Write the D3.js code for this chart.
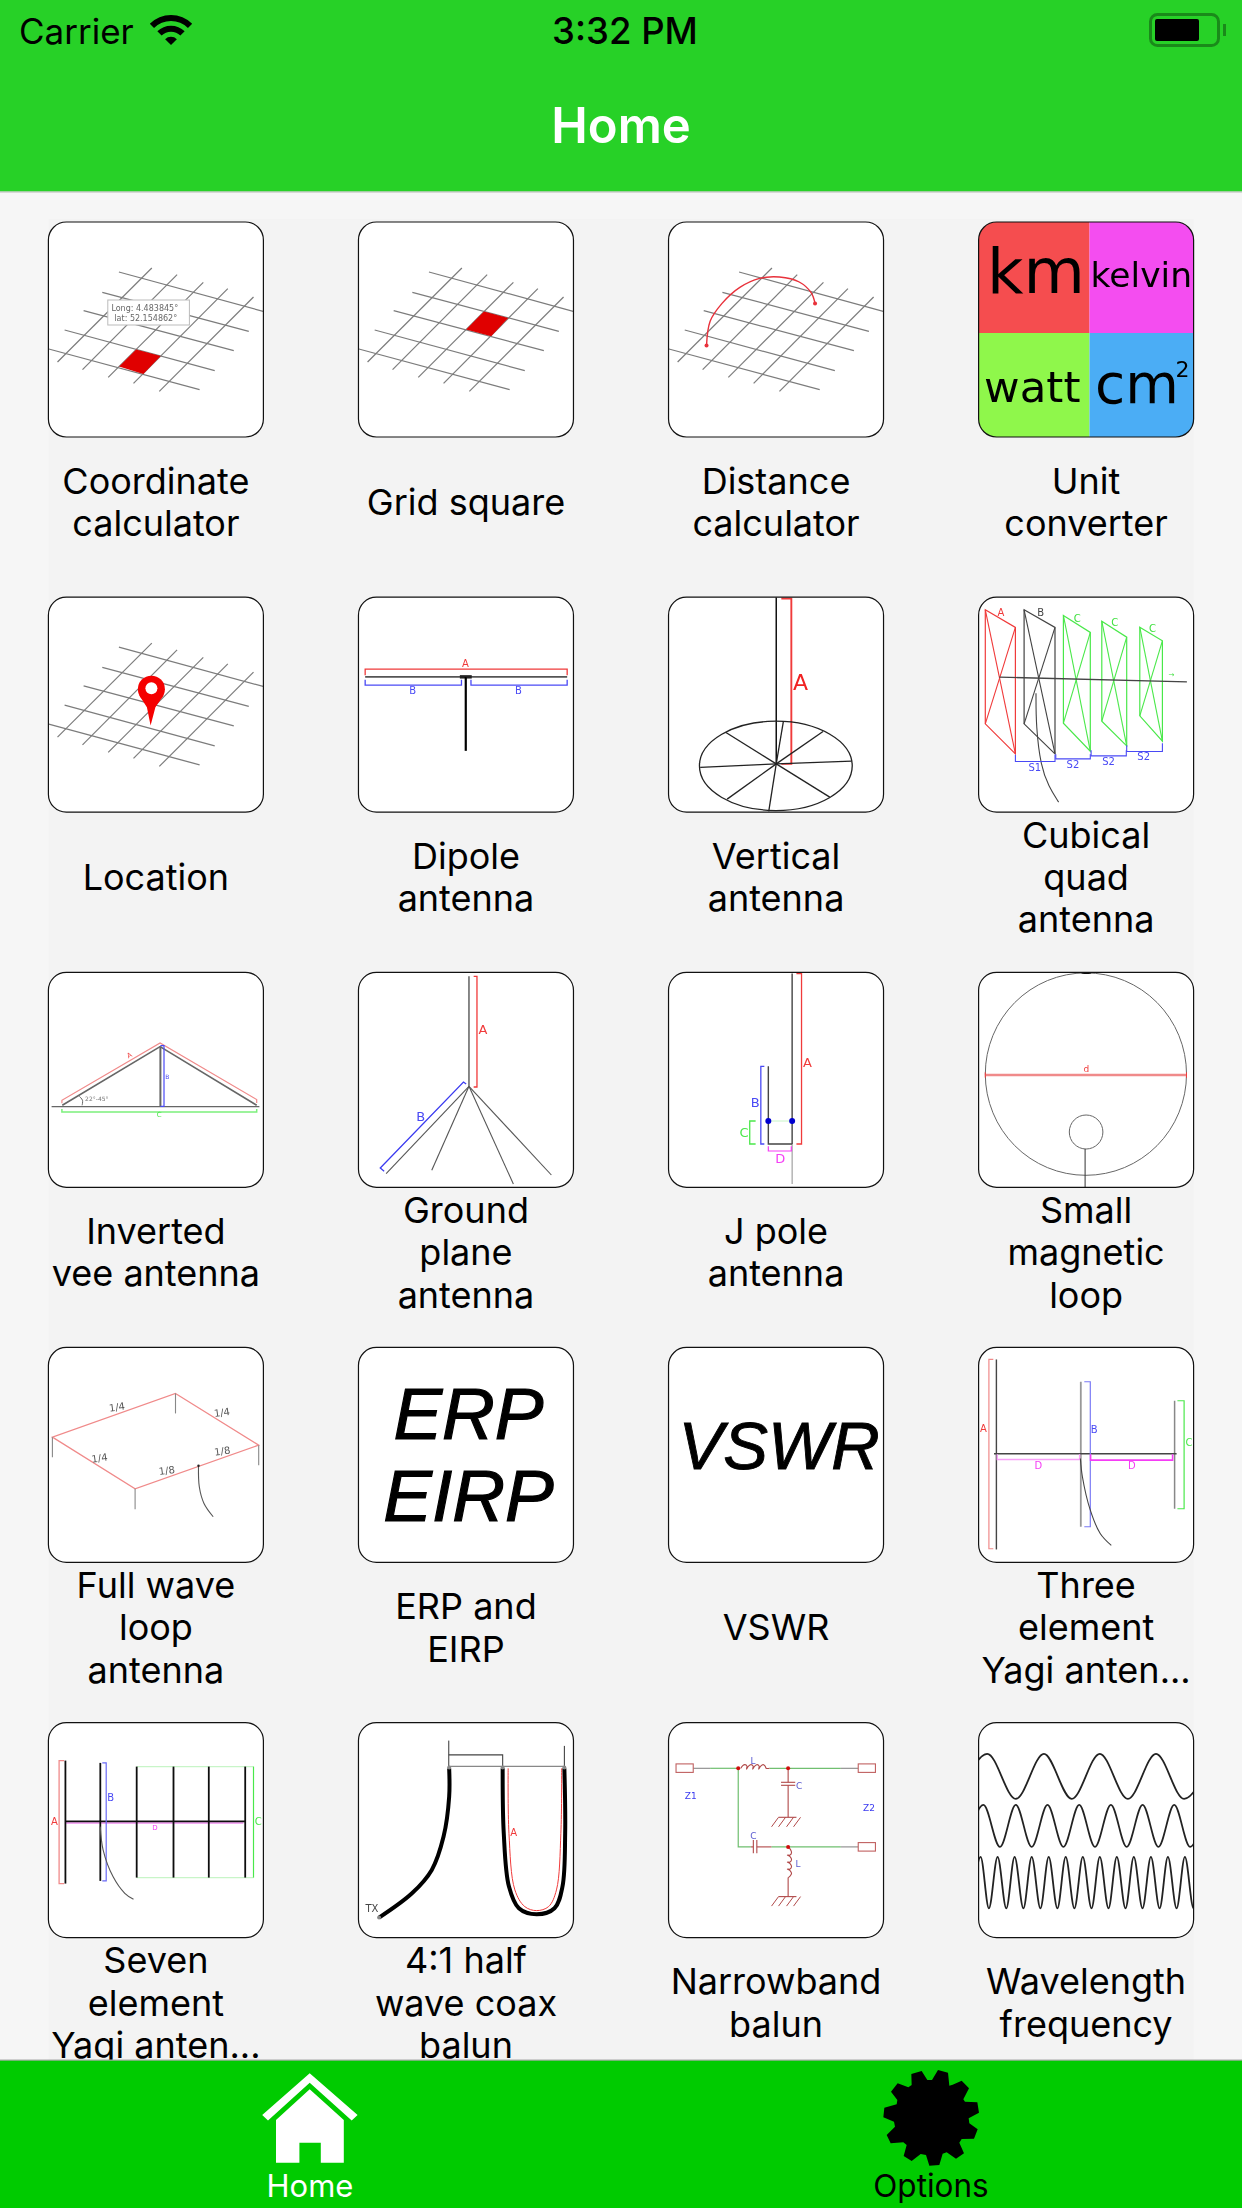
<!DOCTYPE html>
<html><head><meta charset="utf-8">
<style>html,body{margin:0;padding:0;background:#f6f6f6}svg{display:block}text{font-family:Inter,"Noto Sans",sans-serif}</style>
<script src="https://cdnjs.cloudflare.com/ajax/libs/d3/7.8.5/d3.min.js"></script>
</head><body><svg id="s" width="1242" height="2208" viewBox="0 0 1242 2208"></svg>
<script>
// ---------- labels ----------
const labels = [
 ["Coordinate","calculator"],["Grid square"],["Distance","calculator"],["Unit","converter"],
 ["Location"],["Dipole","antenna"],["Vertical","antenna"],["Cubical","quad","antenna"],
 ["Inverted","vee antenna"],["Ground","plane","antenna"],["J pole","antenna"],["Small","magnetic","loop"],
 ["Full wave","loop","antenna"],["ERP and","EIRP"],["VSWR"],["Three","element","Yagi anten..."],
 ["Seven","element","Yagi anten..."],["4:1 half","wave coax","balun"],["Narrowband","balun"],["Wavelength","frequency"]
];
// ---------- icon geometry, in card units (0-215) ----------
const gridRows = [[[70.5,50],[214.7,89.3]],[[53.9,70.3],[200.4,109.3]],[[35.2,88.7],[185.4,128.7]],[[16.2,108],[166.3,148.7]],[[0.4,127],[151.2,167.7]]];
const gridCols = [[[9.1,140],[103.4,46]],[[34.1,147.7],[128.7,52.7]],[[59.8,155.3],[154.9,60.3]],[[85.1,161.3],[179.4,66.7]],[[110.9,169.3],[205.1,75]]];
const coordSquare = [[87.7,127.5],[112.3,133.9],[94.9,152.1],[70.7,144.6]];
const gridSquare = [[125.5,89.6],[149.7,96],[132.7,114.3],[107.7,107.5]];
const distArc = [[38,123.6],[41.6,99.3],[53.5,81.4],[71.3,65.4],[91.1,56.4],[110.9,55],[130.7,60],[142.6,70.7],[146.5,81.4]];
const pinPoly = [[90.8,98],[115.2,98],[107,110],[102.2,128.3],[98.5,110]];
const dipoleA = [[6.7,78],[6.7,72],[208.7,72],[208.7,78]];
const dipoleB1 = [[6.7,82.7],[6.7,88],[103,88],[103,82.7]];
const dipoleB2 = [[112.5,82.7],[112.5,88],[208.7,88],[208.7,82.7]];
const vertSpokes = [[114.9,124],[154.5,134.3],[183,164],[161.2,200],[100.2,214.3],[58.6,202],[31.7,170.3],[57.4,135.3]];
const quadRed = [[6.7,12.7],[36.8,30.3],[36.8,156.7],[6.7,126.7]];
const quadBlack = [[45.5,12.7],[76.4,30.3],[76.4,156.7],[45.5,126.7]];
const quadG1 = [[84.8,18.3],[111.7,35.3],[111.7,154],[84.8,126]];
const quadG2 = [[123.2,24],[148.1,40],[148.1,148.7],[123.2,124]];
const quadG3 = [[161.2,30],[183.8,43.7],[183.8,144],[161.2,118.7]];
const quadFeed = [[57.4,96],[57.4,129.3],[62.2,169.3],[70.1,189.3],[80,205]];
const quadS = [[[36.8,157.7],[36.8,164.3],[76.4,164.3],[76.4,157.7]],[[77.2,157],[77.2,161.7],[111.7,161.7],[111.7,157]],[[112.5,153],[112.5,158.7],[147.7,158.7],[147.7,153]],[[148.1,148],[148.1,154.3],[183.8,154.3],[183.8,146]]];
const quadText = [["A",22.2,15,"#f03a3a"],["B",62.2,15,"#444"],["C",98.6,21,"#3fe03f"],["C",136.2,25.7,"#3fe03f"],["C",173.9,31.7,"#3fe03f"],["S1",56.2,170,"#4a4af5"],["S2",94.3,167,"#4a4af5"],["S2",129.9,164,"#4a4af5"],["S2",165.1,159.7,"#4a4af5"]];
const veeRoof = [[13.9,133],[111.7,74.3],[208.3,133]];
const veeRed = [[13.5,131],[13.5,128],[111.7,70.7],[208.3,127.3],[208.3,130.7]];
const veeBlue = [[112,73.3],[115.6,73.3],[115.6,134],[112,134]];
const veeGreen = [[13.5,136.7],[13.5,139.7],[208.3,139.7],[208.3,136.7]];
const veeAngle = [[30.9,124],[34.1,128],[33.7,133]];
const gpRadials = [[27.7,201.3],[73.3,198],[154.9,211.7],[192.9,202.7]];
const gpRed = [[115.2,4],[118.5,4],[118.5,114.7],[115.2,114.7]];
const gpBlue = [[25.7,199],[21.8,195.7],[105,109.7],[107.7,111.7]];
const jRed = [[127.9,1.3],[133,1.3],[133,171.7],[127.9,171.7]];
const jBlue = [[95.8,94],[92.3,94],[92.3,171.7],[95.8,171.7]];
const jGreen = [[87.1,148.7],[81.2,148.7],[81.2,171.7],[87.1,171.7]];
const jPink = [[99.8,174],[99.8,178.7],[122.8,178.7],[122.8,174]];
const jU = [[99.8,94],[99.8,171.7],[123.6,171.7]];
const loopFull = [[127.1,46],[210.3,97.7],[86.7,141.3],[4,89.7]];
const loopPosts = [[[127.1,46],[127.1,66]],[[210.3,97.7],[210.3,117.7]],[[86.7,141.3],[86.7,161.7]],[[4,89.7],[4,109.7]]];
const loopFeed = [[150.1,118.3],[150.9,139.3],[155.6,156],[164.8,169.3]];
const loopText = [["1/4",68.5,59.7],["1/4",173.5,65],["1/4",51.1,110.7],["1/8",118.4,123],["1/8",173.9,103.7]];
const yagiRed = [[14.7,12],[10.3,12],[10.3,201.3],[14.7,201.3]];
const yagiBlue = [[105.7,34.3],[111.7,34.3],[111.7,179.3],[105.7,179.3]];
const yagiGreen = [[198.8,53.3],[205.5,53.3],[205.5,161.3],[198.8,161.3]];
const yagiPink1 = [[18.6,106.7],[18.6,112],[101,112],[101,106.7]];
const yagiPink2 = [[112,106.7],[112,112.7],[194,112.7],[194,106.7]];
const yagiFeed = [[101.8,111],[103.8,129.3],[111.7,162.7],[121.6,186],[132.7,198]];
const sevenEls = [[17,38,161],[51.9,40.3,158.3],[88.3,44,155],[125.1,44,155],[160.4,44,155],[196.8,44,155]];
const sevenRed = [[15.8,38],[10.7,38],[10.7,161],[15.8,161]];
const sevenBlue = [[53.9,40.3],[57.8,40.3],[57.8,158.3],[53.9,158.3]];
const sevenGreen = [[205.1,44],[205.1,155]];
const sevenFeed = [[51.9,104],[54.7,127.3],[64.6,154],[76.4,170.7],[85.1,176.7]];
const balunLeft = [[90.7,45.7],[90.7,74],[85.1,114],[73.3,147.3],[53.5,170.7],[20.6,195]];
const balunU = [[144.2,45.7],[145.3,110.7],[150.5,164],[160.4,185.7],[178.2,191.7],[196,185.7],[204,164],[206.7,110.7],[205.9,45.7]];
const balunRed = [[149.7,45.7],[150.5,110.7],[156.4,167.3],[166.3,184],[178.2,188],[190.1,184],[198,167.3],[202.4,110.7],[203.2,45.7]];
const balunLink = [[90.3,32.3],[144.2,32.3],[144.2,44]];
const nbPorts = [[7.5,41.3],[189.7,41.3],[189.7,120]];
const nbGreen = [[[41.6,45.7],[69.3,45.7]],[[101,45.7],[172.3,45.7]],[[69.7,45.7],[69.7,124.3],[82.4,124.3]],[[102.9,124.3],[172.3,124.3]]];
const nbGrey = [[[24.6,45.7],[41.6,45.7]],[[172.3,45.7],[189.7,45.7]],[[172.3,124.3],[189.7,124.3]]];
const nbRed = [[[119.6,45.7],[119.6,59.7]],[[119.6,62.7],[119.6,94.7]],[[112.5,59.7],[126.7,59.7]],[[112.5,62.7],[126.7,62.7]],[[82.4,124.3],[84.8,124.3]],[[88.3,124.3],[102.9,124.3]],[[84.8,117.3],[84.8,130.7]],[[88.3,117.3],[88.3,130.7]],[[119.6,155],[119.6,174]]];
const nbGround = [[110,127.9,94.7],[110,127.9,174]];
const nbHatch = [[-7,0],[0,0],[8,0],[15,0]];
const nbDots = [[69.7,45.7],[119.6,45.7],[119.6,124.3]];
const nbCoilH = [[72.3,45.7],[74.2,43],[76.4,42],[78.4,43.5],[78,46.5],[80,43.5],[82.4,42],[84.6,43.5],[84.2,46.5],[86.2,43.5],[88.6,42],[90.6,43.5],[90.2,46.5],[92.2,43.5],[94.6,42],[96.6,43.5],[97.6,45.7],[101,45.7]];
const nbCoilV = [[119.6,124.3],[122,127],[123,130],[121.5,132.5],[118.8,132.5],[121.5,134],[123,137],[121.5,139.5],[118.8,139.5],[121.5,141],[123,144],[121.5,146.5],[118.8,146.5],[121.5,148],[123,151],[121.5,153.5],[119.6,155]];
const nbText = [["L",84.4,38.3,"#5a5ad0"],["C",130.7,63.3,"#5a5ad0"],["L",129.5,141,"#5a5ad0"],["C",84.8,113,"#5a5ad0"],["Z1",22.2,73,"#3a3af0"],["Z2",200.4,85,"#3a3af0"]];
const wave1Peaks = [8.7,65.3,121.2,177.4,233.5], wave1Troughs = [-19.6,37.2,93.1,149.3,205.5];
const wave2Peaks = [4.8,37.2,68.9,100.6,132.3,164,195.6,227.3], wave2Troughs = [-11.9,21.4,53.1,84.8,116.4,148.1,179.8,211.5];
const wave3Peaks = [2,19,36,53.1,70.1,87.1,104.2,121.2,138.2,155.2,172.3,189.3,206.3,223.3], wave3Troughs = [-6.5,10.3,27.7,44.8,61.8,78.8,95.8,112.9,129.9,146.9,163.9,181,198,215];
const waveLevels = [[31.3,76.3],[82.3,124.3],[134.3,185.7]];
const unitTiles = [[0,0,110.9,111,"#f54d4f"],[110.9,0,104.1,111,"#f44df0"],[0,111,110.9,104,"#8ff74b"],[110.9,111,104.1,104,"#4badf5"]];
const unitText = [["km",8.5,70.7,63],["kelvin",112,65.4,34.5],["watt",5.5,179.6,43.5],["cm",116.5,181.4,55],["2",197,154.6,22]];
// ---------- tab bar shapes ----------
const homeRoof = [[309.7,2073.3],[357.6,2115],[351.7,2120.5],[309.7,2082.7],[268,2120.5],[262.2,2115]];
const homeBody = [[276,2120],[309.7,2089.3],[343.8,2120],[343.8,2162.7],[320.8,2162.7],[320.8,2142.7],[299.4,2142.7],[299.4,2162.7],[276,2162.7]];
const gearOutline = [[124,42],[155,33],[172,60],[186,60],[204,30],[234,38],[238,77],[248,74],[275,62],[297,85],[280,118],[285,125],[322,127],[327,158],[296,175],[298,190],[323,208],[312,236],[275,237],[268,248],[282,280],[258,296],[230,277],[218,281],[208,315],[178,317],[168,285],[152,282],[125,303],[101,288],[110,255],[100,247],[62,250],[50,225],[75,200],[72,185],[40,172],[43,143],[80,133],[82,120],[63,95],[83,70],[115,82],[125,75]];

// ---------- scene ----------
const svg = d3.select("#s");
const defs = svg.append("defs");
defs.append("filter").attr("id","soft").attr("x","-5%").attr("y","-5%").attr("width","110%").attr("height","110%")
  .append("feGaussianBlur").attr("stdDeviation",0.45);
const CARD = 215, RED="#f03a3a", PALE="#f08a8a", BLUE="#4a4af5", GREEN="#4ae84a", PINK="#f53df5", GREY="#666";
const colX = d3.scaleLinear().domain([0,3]).range([48.4,978.6]);
const rowY = d3.scaleLinear().domain([0,4]).range([222,1722.6]);
svg.append("rect").attr("width",1242).attr("height",2208).attr("fill","#f6f6f6");
svg.append("rect").attr("x",48.4).attr("y",219).attr("width",1145.4).attr("height",1841).attr("fill","#f3f3f3");

labels.forEach((lines,i)=>{
  const c = i%4, r = Math.floor(i/4);
  const X = d3.scaleLinear().domain([0,CARD]).range([colX(c),colX(c)+CARD]);
  const Y = d3.scaleLinear().domain([0,CARD]).range([rowY(r),rowY(r)+CARD]);
  const g = svg.append("g");
  defs.append("clipPath").attr("id","clip"+i).append("rect").attr("x",X(0)).attr("y",Y(0)).attr("width",CARD).attr("height",CARD).attr("rx",18);
  g.append("rect").attr("x",X(0)).attr("y",Y(0)).attr("width",CARD).attr("height",CARD).attr("rx",18).attr("fill","#fff");
  const ic = g.append("g").attr("clip-path",`url(#clip${i})`).append("g").attr("filter","url(#soft)");
  const line = (pts,color,w=1.2,curve=d3.curveLinear,fill="none",close=false)=>{
    const l = d3.line().x(d=>X(d[0])).y(d=>Y(d[1])).curve(curve);
    return ic.append("path").attr("d",l(pts)+(close?"Z":"")).attr("fill",fill).attr("stroke",color).attr("stroke-width",w);
  };
  const poly = (pts,fill)=>line(pts,"none",0,d3.curveLinear,fill,true);
  const ell = (cx,cy,rx,ry,color,w,fill="none")=>ic.append("ellipse").attr("cx",X(cx)).attr("cy",Y(cy)).attr("rx",rx).attr("ry",ry).attr("fill",fill).attr("stroke",color).attr("stroke-width",w);
  const txt = (s,x,y,size,color,rot)=>{
    const t = ic.append("text").attr("x",X(x)).attr("y",Y(y)).attr("text-anchor","middle").attr("dominant-baseline","central").attr("font-size",size).attr("fill",color).text(s);
    t.style("font-family","'DejaVu Sans'");
    if(rot) t.attr("transform",`rotate(${rot} ${X(x)} ${Y(y)})`);
    return t;
  };
  const base = (s,x,y,size,color="#000",fam="'DejaVu Sans'",style="normal",anchor="start")=>ic.append("text").attr("x",X(x)).attr("y",Y(y)).attr("text-anchor",anchor).attr("font-size",size).attr("fill",color).attr("font-style",style).style("font-family",fam).text(s);
  const grid = ()=>{ gridRows.forEach(p=>line(p,"#7c7c7c",1.2)); gridCols.forEach(p=>line(p,"#7c7c7c",1.2)); };
  const quad = (pts,col)=>{ line(pts,col,1.2,d3.curveLinear,"none",true); line([pts[0],pts[2]],col,1.1); line([pts[1],pts[3]],col,1.1); };

  switch(i){
   case 0: grid(); poly(coordSquare,"#e00000");
     ic.append("rect").attr("x",X(59.4)).attr("y",Y(78)).attr("width",81.6).attr("height",25).attr("fill","#fff").attr("stroke","#bbb").attr("stroke-width",1);
     base("Long:   4.483845°",63,88.5,8,"#666");
     base("lat:  52.154862°",66,98.5,8,"#666"); break;
   case 1: grid(); poly(gridSquare,"#e00000"); break;
   case 2: grid(); line(distArc,"#e8303a",1.4,d3.curveCatmullRom); [distArc[0],distArc[distArc.length-1]].forEach(p=>ell(p[0],p[1],2,2,"none",0,"#e8303a")); break;
   case 3: unitTiles.forEach(t=>ic.append("rect").attr("x",X(t[0])).attr("y",Y(t[1])).attr("width",t[2]).attr("height",t[3]).attr("fill",t[4]));
     unitText.forEach(t=>base(t[0],t[1],t[2],t[3])); break;
   case 4: grid(); ell(103,92,13.5,13.5,"none",0,"#f50000"); poly(pinPoly,"#f50000"); ell(103,91,6,6,"none",0,"#fff"); break;
   case 5: line([[6.7,79.7],[208.7,79.7]],"#555",1.6); line(dipoleA,RED,1.3); line(dipoleB1,BLUE,1.3); line(dipoleB2,BLUE,1.3);
     line([[101.4,79.7],[113.3,79.7]],"#222",3.4); line([[107.3,80],[107.3,153.7]],"#000",2.2);
     txt("A",106.9,66.5,10,RED); txt("B",54.3,93,10,BLUE); txt("B",160,93,10,BLUE); break;
   case 6: line([[107.7,0],[107.7,166.7]],"#111",1.5); line([[112.8,1.3],[122.8,1.3],[122.8,166.7],[112.8,166.7]],RED,1.9);
     base("A",124.5,92.7,22,"#f02020"); ell(107.3,168.7,76.4,44.7,"#222",1.3);
     vertSpokes.forEach(p=>line([[107.7,166.7],p],"#222",1.3)); break;
   case 7: quad(quadRed,RED); quad(quadBlack,"#444"); quad(quadG1,GREEN); quad(quadG2,GREEN); quad(quadG3,GREEN);
     line([[20.6,80],[208.3,84.7]],"#444",1.4); line(quadFeed,"#444",1.1,d3.curveBasis);
     quadS.forEach(p=>line(p,BLUE,1.1)); quadText.forEach(t=>txt(t[0],t[1],t[2],10,t[3]));
     txt("→",192.9,77.7,7,"#3fe03f"); break;
   case 8: line(veeRoof,GREY,1.6); line(veeRed,PALE,1.2); line([[3.2,134.3],[211,134.3]],GREY,1.1);
     line([[112,74],[112,134]],GREY,2); line(veeBlue,BLUE,1.2); line(veeGreen,"#7cf07c",1.5); line(veeAngle,"#555",.9,d3.curveCatmullRom);
     txt("A",81.2,83.3,7,RED,-30); txt("B",118.8,104,6,BLUE); txt("C",110.9,143,7,GREEN); txt("22°-45°",48.4,126.3,6,"#777"); break;
   case 9: line([[110.5,4],[110.5,114]],"#555",1.4); line(gpRed,RED,1.3); gpRadials.forEach(p=>line([[110.5,114],p],"#555",1.1));
     line(gpBlue,"#3a3af0",1.3); txt("A",124.4,56.7,13,RED); txt("B",62.2,144,13,BLUE); break;
   case 10: line([[123.6,1.3],[123.6,171.7]],"#444",1.4); line([[123.6,171.7],[123.6,211.7]],"#999",1.1); line(jU,"#444",1.4);
     line(jRed,RED,1.3); line(jBlue,BLUE,1.3); line(jGreen,GREEN,1.3); line(jPink,PINK,1.2); line([[99.8,148.7],[123.6,148.7]],"#c8f5c8",1);
     ell(99.8,148.7,3,3,"none",0,"#0000d0"); ell(123.6,148.7,3,3,"none",0,"#0000d0");
     txt("A",139,89.7,13,RED); txt("B",86.7,129.7,13,BLUE); txt("C",75.6,159.7,13,GREEN); txt("D",111.7,186,13,PINK); break;
   case 11: ell(107.3,101.8,100.6,101.2,GREY,1); ell(107.5,159.7,16.8,17,GREY,1); line([[106.5,176.7],[106.5,216]],"#333",1);
     line([[6.7,102.7],[207.9,102.7]],PALE,2.4); line([[6.7,100],[6.7,105.4]],RED,1); line([[207.9,100],[207.9,105.4]],RED,1);
     txt("d",107.7,96.5,9,RED); ell(107.7,0.7,5,1,"none",0,"#111"); break;
   case 12: line(loopFull,PALE,1.3,d3.curveLinear,"none",true); loopPosts.forEach(p=>line(p,"#888",1.1));
     line(loopFeed,"#555",1.1,d3.curveCatmullRom); ell(150.1,118.3,1.2,1.2,"none",0,"#222");
     loopText.forEach(t=>txt(t[0],t[1],t[2],10,"#555",-8)); break;
   case 13: base("ERP",110,92,73,"#000","'Liberation Sans'","italic","middle").attr("stroke","#000").attr("stroke-width",1.2);
     base("EIRP",110,174,73,"#000","'Liberation Sans'","italic","middle").attr("stroke","#000").attr("stroke-width",1.2); break;
   case 14: base("VSWR",110.5,122,67,"#000","'Liberation Sans'","italic","middle").attr("stroke","#000").attr("stroke-width",0.9); break;
   case 15: line([[17.8,12],[17.8,202]],"#444",1.4); line([[102.2,34.3],[102.2,179.3]],"#999",1.8); line([[196,53.3],[196,161.3]],"#888",1.5);
     line([[15.4,106.3],[198,106.3]],"#444",1.5); line(yagiRed,PALE,1.2); line(yagiBlue,"#7a7af5",1.2); line(yagiGreen,GREEN,1.2);
     line(yagiPink1,"#f8a0f8",1.4); line(yagiPink2,PINK,1.6); line(yagiFeed,"#444",1.1,d3.curveCatmullRom);
     txt("A",4.8,81.3,10,RED); txt("B",115.6,82,10,BLUE); txt("C",210.3,94.7,10,GREEN); txt("D",59.8,117.7,10,PINK); txt("D",153.3,118.3,10,PINK); break;
   case 16: line([[88.3,44],[205.1,44]],"#c8f5c8",1.2); line([[88.3,155],[205.1,155]],"#c8f5c8",1.2); line(sevenGreen,GREEN,1.2);
     line([[17,100.3],[195,100.3]],"#f08cf0",1.5); line([[17,98.7],[197.5,98.7]],"#111",1.7);
     sevenEls.forEach(e=>line([[e[0],e[1]],[e[0],e[2]]],"#111",1.8));
     line(sevenRed,PALE,1.3); line(sevenBlue,"#6a6af5",1.2); line(sevenFeed,"#555",1.1,d3.curveCatmullRom);
     txt("A",5.9,98.7,10,RED); txt("B",62.2,75,10,BLUE); txt("C",209.9,98.7,10,GREEN); txt("D",106.5,105.3,7,PINK); break;
   case 17: line([[90.3,18],[90.3,44]],"#333",1); line([[205.9,23.3],[205.9,44]],"#333",1); line(balunLink,"#444",1.1); line([[90.3,43.7],[205.9,43.7]],"#888",1.2);
     line(balunRed,RED,1,d3.curveCatmullRom); line(balunLeft,"#000",4,d3.curveCatmullRom); line(balunU,"#000",4,d3.curveCatmullRom);
     ell(90.7,45,2,2,"none",0,"#888"); ell(144.2,45,2,2,"none",0,"#888"); ell(205.9,45,2,2,"none",0,"#888"); ell(20.6,195,2,2,"none",0,"#888");
     txt("A",155.2,110,10,RED); txt("TX",13.5,186.3,10,"#444"); break;
   case 18: nbGreen.forEach(p=>line(p,"#6fbf6f",1.2)); nbGrey.forEach(p=>line(p,"#888",1.1)); nbRed.forEach(p=>line(p,"#b04848",1.1));
     nbPorts.forEach(p=>ic.append("rect").attr("x",X(p[0])).attr("y",Y(p[1])).attr("width",17.2).attr("height",8.5).attr("fill","#fff").attr("stroke","#c06060").attr("stroke-width",1.1));
     line(nbCoilH,"#b04848",1.1,d3.curveCatmullRom); line(nbCoilV,"#b04848",1.1,d3.curveCatmullRom);
     nbGround.forEach(gr=>{ line([[gr[0],gr[2]],[gr[1],gr[2]]],"#b04848",1.1); nbHatch.forEach(h=>line([[gr[0]+h[0],gr[2]+9.5],[gr[0]+h[0]+7,gr[2]]],"#b04848",1)); });
     nbDots.forEach(p=>ell(p[0],p[1],2,2,"none",0,"#d01010")); nbText.forEach(t=>txt(t[0],t[1],t[2],9,t[3])); break;
   case 19: [[wave1Peaks,wave1Troughs],[wave2Peaks,wave2Troughs],[wave3Peaks,wave3Troughs]].forEach((w,k)=>{
       const pts = w[0].map(x=>[x,waveLevels[k][0]]).concat(w[1].map(x=>[x,waveLevels[k][1]])).sort((a,b)=>a[0]-b[0]);
       line(pts,"#222",1.8,d3.curveMonotoneX);
     }); break;
  }
  g.append("rect").attr("x",X(0)).attr("y",Y(0)).attr("width",CARD).attr("height",CARD).attr("rx",18).attr("fill","none").attr("stroke","#111").attr("stroke-width",1.2);
  // caption
  const mid = Y(CARD)+78, step = 42.3, first = mid-(lines.length-1)*step/2;
  lines.forEach((s,k)=>svg.append("text").attr("x",X(CARD/2)).attr("y",first+k*step).attr("text-anchor","middle").attr("font-size",36).attr("fill","#000").text(s));
});

// nav bar
svg.append("rect").attr("width",1242).attr("height",191.5).attr("fill","#27d127");
svg.append("rect").attr("y",191.5).attr("width",1242).attr("height",1).attr("fill","#b8b8b8");
svg.append("text").attr("x",19).attr("y",43.6).attr("font-size",35).attr("fill","#000").text("Carrier");
svg.append("text").attr("x",625).attr("y",43.6).attr("text-anchor","middle").attr("font-size",36.5).attr("font-weight",500).attr("fill","#000").text("3:32 PM");
svg.append("text").attr("x",621).attr("y",143).attr("text-anchor","middle").attr("font-size",49).attr("font-weight",600).attr("fill","#fff").text("Home");
// wifi
const wifi = svg.append("g").attr("transform","translate(171,45)");
[[24,30],[13.3,19.3],[0,8.3]].forEach(r=>wifi.append("path").attr("d",d3.arc().innerRadius(r[0]).outerRadius(r[1]).startAngle(-Math.PI/4).endAngle(Math.PI/4)()).attr("fill","#000"));
// battery
svg.append("rect").attr("x",1150.5).attr("y",14.5).attr("width",68).attr("height",31).attr("rx",7).attr("fill","none").attr("stroke","#1a8a1a").attr("stroke-width",3);
svg.append("rect").attr("x",1155).attr("y",19).attr("width",44).attr("height",22).attr("rx",2).attr("fill","#000");
svg.append("rect").attr("x",1223).attr("y",24).attr("width",3).attr("height",12).attr("fill","#1a8a1a");
// tab bar
svg.append("rect").attr("y",2060).attr("width",1242).attr("height",148).attr("fill","#00cb00");
svg.append("rect").attr("y",2059.5).attr("width",1242).attr("height",1.2).attr("fill","#a8a8a8");
const P = d3.line();
svg.append("path").attr("d",P(homeRoof)+"Z").attr("fill","#fff");
svg.append("path").attr("d",P(homeBody)+"Z").attr("fill","#fff");
svg.append("text").attr("x",310).attr("y",2197.3).attr("text-anchor","middle").attr("font-size",31).attr("fill","#fff").text("Home");
const gx = d3.scaleLinear().domain([0,360]).range([870,990]), gy = d3.scaleLinear().domain([0,360]).range([2060,2180]);
svg.append("path").attr("d",d3.line().x(d=>gx(d[0])).y(d=>gy(d[1]))(gearOutline)+"Z").attr("fill","#000");
svg.append("text").attr("x",931).attr("y",2197.3).attr("text-anchor","middle").attr("font-size",31.5).attr("fill","#000").text("Options");
</script></body></html>
